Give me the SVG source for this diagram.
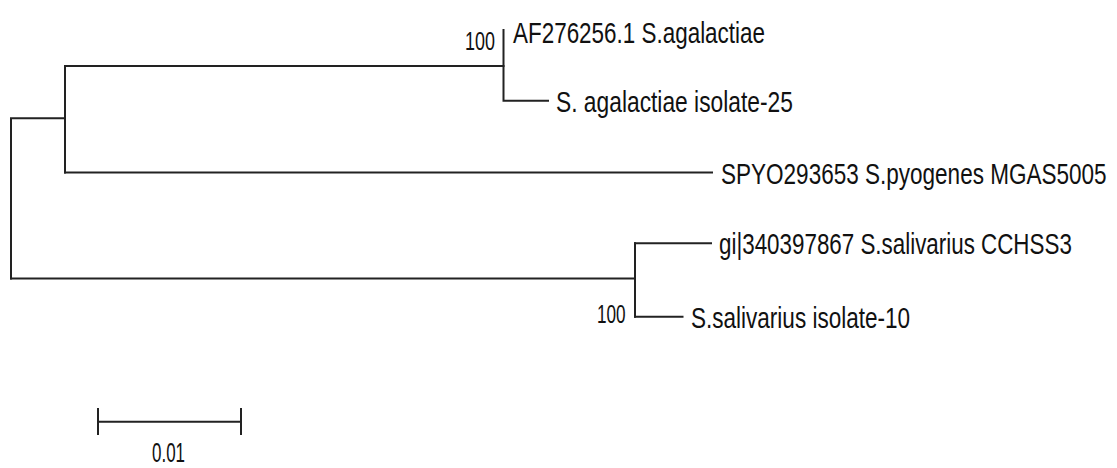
<svg xmlns="http://www.w3.org/2000/svg" width="1117" height="468" viewBox="0 0 1117 468">
<style>
.br{fill:none;stroke:#222;stroke-width:2;stroke-linecap:square}
.lb{font-family:"Liberation Sans",Arial,sans-serif;font-size:29px;fill:#111}
.bs{font-family:"Liberation Sans",Arial,sans-serif;font-size:26px;fill:#111}
</style>
<rect width="1117" height="468" fill="#fff"/>
<g id="connectors">
<path class="br" d="M11,278.5 V118.3 H65"/>
<path class="br" d="M11,278.5 H635"/>
<path class="br" d="M65,66 V172.5"/>
<path class="br" d="M65,66 H503.5"/>
<path class="br" d="M65,172.5 H712"/>
<path class="br" d="M503.5,30 V100.7 H548"/>
<path class="br" d="M635,243.3 V316.7"/>
<path class="br" d="M635,243.3 H711"/>
<path class="br" d="M635,316.7 H682.5"/>
</g>
<g id="leaf-af276256">
<text class="lb" transform="translate(513,43) scale(0.774,1)">AF276256.1 S.agalactiae</text>
</g>
<g id="leaf-isolate25">
<text class="lb" transform="translate(556,111.5) scale(0.786,1)">S. agalactiae isolate-25</text>
</g>
<g id="leaf-spyo">
<text class="lb" transform="translate(721,183.5) scale(0.777,1)">SPYO293653 S.pyogenes MGAS5005</text>
</g>
<g id="leaf-gi">
<text class="lb" transform="translate(719,254) scale(0.772,1)">gi|340397867 S.salivarius CCHSS3</text>
</g>
<g id="leaf-isolate10">
<text class="lb" transform="translate(691,328) scale(0.777,1)">S.salivarius isolate-10</text>
</g>
<g id="bootstrap-b">
<text class="bs" transform="translate(465,50) scale(0.69,1)">100</text>
</g>
<g id="bootstrap-c">
<text class="bs" transform="translate(597,323) scale(0.66,1)">100</text>
</g>
<g id="scale-bar">
<path class="br" d="M98,421.7 H241 M98,409 V434 M241,409 V434" stroke-linecap="butt"/>
<text class="lb" style="font-size:28px" transform="translate(152,462) scale(0.606,1)">0.01</text>
</g>
</svg>
